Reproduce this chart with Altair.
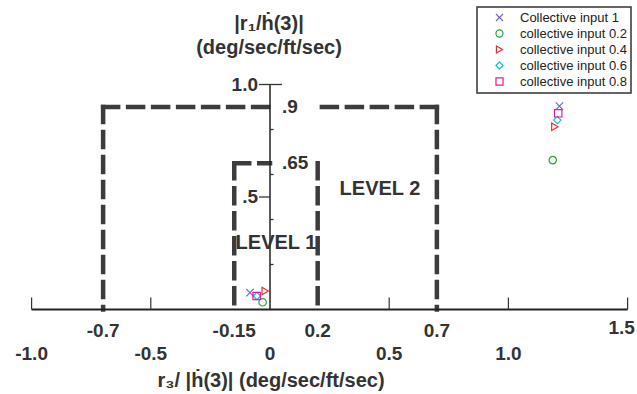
import altair as alt
import pandas as pd

# ---------------- data ----------------
series = ["Collective input 1", "collective input 0.2", "collective input 0.4",
          "collective input 0.6", "collective input 0.8"]
r3_near = [-0.084, -0.031, -0.020, -0.055, -0.056]
r1_near = [0.075, 0.032, 0.082, 0.060, 0.060]
r3_far = [1.214, 1.186, 1.195, 1.205, 1.209]
r1_far = [0.904, 0.664, 0.812, 0.842, 0.872]

level2_r3 = [-0.7, 0.7]
level2_r1 = 0.9
level1_r3 = [-0.15, 0.2]
level1_r1 = 0.65

x_ticks = [-1.0, -0.5, 0.5, 1.0, 1.5]
x_top_vals = [-0.7, -0.15, 0.2, 0.7]
x_top_labels = ["-0.7", "-0.15", "0.2", "0.7"]
x_end_val = 1.5
x_end_label = "1.5"
x_bot_vals = [-1.0, -0.5, 0.0, 0.5, 1.0]
x_bot_labels = ["-1.0", "-0.5", "0", "0.5", "1.0"]
y_minor = [0.2, 0.4, 0.6, 0.8]
y_major = [0.5, 1.0]
y_left_labels = ["1.0", ".5"]
y_right_vals = [0.9, 0.65]
y_right_labels = [".9", ".65"]

colors = ["#6a6ad0", "#1ea83c", "#ee2a2a", "#1cb8e8", "#e8189c"]
shapes = ["M-1,-1L1,1M-1,1L1,-1", "circle", "triangle-right", "diamond", "square"]

# ---------------- scales (pixel frame 637 x 394) ----------------
PX_X = 238.4   # pixels per unit of r3
PX_Y = 225.0   # pixels per unit of r1
X0, Y0 = 270.0, 309.5
xs = alt.Scale(domain=[-X0 / PX_X, (637 - X0) / PX_X], nice=False, zero=False)
ys = alt.Scale(domain=[(Y0 - 394) / PX_Y, Y0 / PX_Y], nice=False, zero=False)

def dx(p):
    return p / PX_X

def dy(p):
    return p / PX_Y

INK = "#333333"
FONT = "Liberation Sans"


def seg_layer(rows, width, color=INK, dash=None, cap="butt"):
    df = pd.DataFrame(rows, columns=["x", "y", "x2", "y2"])
    kw = dict(color=color, strokeWidth=width, strokeCap=cap)
    if dash:
        kw["strokeDash"] = dash
    return alt.Chart(df).mark_rule(**kw).encode(
        x=alt.X("x:Q", scale=xs, axis=None),
        y=alt.Y("y:Q", scale=ys, axis=None),
        x2="x2:Q", y2="y2:Q")


def text_layer(vals_x, vals_y, labels, size, align="center", baseline="alphabetic",
               offset_x=0, color=INK, weight="bold"):
    df = pd.DataFrame({"x": vals_x, "y": vals_y, "t": labels})
    return alt.Chart(df).mark_text(font=FONT, fontSize=size, fontWeight=weight,
                                   color=color, align=align, baseline=baseline,
                                   dx=offset_x).encode(
        x=alt.X("x:Q", scale=xs, axis=None),
        y=alt.Y("y:Q", scale=ys, axis=None),
        text="t:N")

# axes
axis_x = seg_layer([[x_ticks[0], 0, x_ticks[-1], 0]], 2, color="#222222")
axis_y = seg_layer([[0, 0, 0, y_major[-1]]], 1.5, color="#222222")
ticks_x = seg_layer([[t, 0, t, dy(12)] for t in x_ticks], 1.2)
ticks_y = seg_layer([[-dx(11), y_major[1], dx(12), y_major[1]],
                     [-dx(11), y_major[0], 0, y_major[0]]] +
                    [[0, v, dx(3.5), v] for v in y_minor], 1.3)

# dashed level boundaries
gap_r = dx(45)
box_rows = [
    [level2_r3[0], level2_r1, level2_r3[0], 0],
    [level2_r3[1], level2_r1, level2_r3[1], 0],
    [level2_r3[0], level2_r1, 0, level2_r1],
    [level2_r3[1], level2_r1, gap_r, level2_r1],
    [level1_r3[0], level1_r1, level1_r3[0], 0],
    [level1_r3[1], level1_r1, level1_r3[1], 0],
    [level1_r3[0], level1_r1, 0, level1_r1],
]
boxes = seg_layer(box_rows, 4.5, color="#3c3c3c", dash=[15, 10], cap="square")

# labels
lab_top = text_layer(x_top_vals, [dy(-27.5)] * 4, x_top_labels, 19)
lab_end = text_layer([x_end_val], [dy(-24)], [x_end_label], 19, offset_x=-6)
lab_bot = text_layer(x_bot_vals, [dy(-50.5)] * 5, x_bot_labels, 19)
lab_yl = text_layer([-dx(12)] * 2, y_major[::-1], y_left_labels, 19,
                    align="right", baseline="middle")
lab_yr = text_layer([dx(12)] * 2, y_right_vals, y_right_labels, 19,
                    align="left", baseline="middle")

levels = text_layer([dx(110), dx(6)], [dy(115), dy(61)], ["LEVEL 2", "LEVEL 1"], 20)

ytitle1 = text_layer([dx(-1)], [dy(Y0 - 30)], ["|r\u2081/\u1e23(3)|"], 20)
ytitle2 = text_layer([dx(-1)], [dy(Y0 - 54)], ["(deg/sec/ft/sec)"], 20)
xtitle = text_layer([dx(1)], [dy(Y0 - 387)],
                    ["r\u2083/ |\u1e23(3)| (deg/sec/ft/sec)"], 20)

# data points
pts = pd.DataFrame({
    "r3": r3_near + r3_far,
    "r1": r1_near + r1_far,
    "series": series + series,
})
points = alt.Chart(pts).mark_point(filled=False, size=55, strokeWidth=1.2, opacity=1).encode(
    x=alt.X("r3:Q", scale=xs, axis=None),
    y=alt.Y("r1:Q", scale=ys, axis=None),
    color=alt.Color("series:N", scale=alt.Scale(domain=series, range=colors),
                    legend=alt.Legend(title=None, orient="none", legendX=477, legendY=7,
                                      padding=4, rowPadding=2, symbolOffset=12,
                                      labelOffset=14, labelFont=FONT, labelFontSize=13,
                                      labelColor="#222222", strokeColor="#333333",
                                      fillColor="white", symbolSize=50,
                                      symbolStrokeWidth=1.2)),
    shape=alt.Shape("series:N", scale=alt.Scale(domain=series, range=shapes)),
)

chart = alt.layer(
    boxes, axis_x, axis_y, ticks_x, ticks_y,
    lab_top, lab_end, lab_bot, lab_yl, lab_yr, levels, ytitle1, ytitle2, xtitle,
    points,
).properties(
    width=637, height=394, padding=0,
    autosize=alt.AutoSizeParams(type="none"),
).configure_view(stroke=None).configure_legend(strokeWidth=1.5)

chart.save("out.html", embed_options={"renderer": "svg", "actions": False})
